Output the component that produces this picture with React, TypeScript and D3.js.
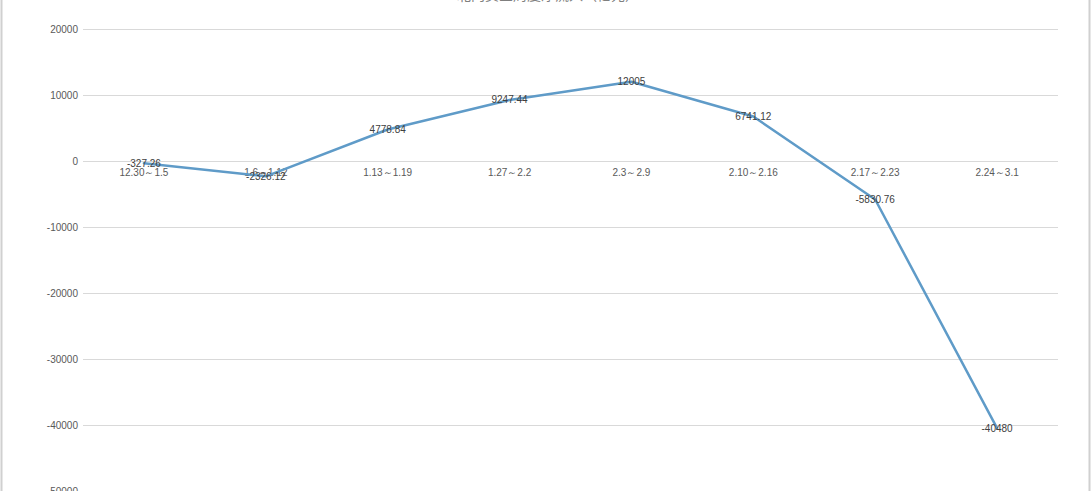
import React from "react";
import * as d3 from "d3";

const categories = ["12.30～1.5", "1.6～1.12", "1.13～1.19", "1.27～2.2", "2.3～2.9", "2.10～2.16", "2.17～2.23", "2.24～3.1"];
const values = [-327.26, -2326.12, 4778.84, 9247.44, 12005, 6741.12, -5830.76, -40480];
const valueLabels = ["-327.26", "-2326.12", "4778.84", "9247.44", "12005", "6741.12", "-5830.76", "-40480"];
const yTicks = [20000, 10000, 0, -10000, -20000, -30000, -40000, -50000];
const title = "北向资金周度净流入（亿元）";

const W = 1091;
const H = 491;

export default function App() {
  const x = d3.scaleBand<string>().domain(categories).range([83, 1058]);
  const y = d3.scaleLinear().domain([-50000, 20000]).range([491, 29]);
  const line = d3
    .line<number>()
    .x((_, i) => (x(categories[i]) as number) + x.bandwidth() / 2)
    .y((d) => y(d));
  const font = "'Liberation Sans', Arial, sans-serif";
  return (
    <div style={{ position: "absolute", left: 0, top: 0 }}>
      <svg width={W} height={H} style={{ display: "block", background: "#fff" }}>
        <line x1={1.5} x2={1.5} y1={0} y2={H} stroke="#d0d0d0" strokeWidth={2} />
        <line x1={1089.5} x2={1089.5} y1={0} y2={H} stroke="#d0d0d0" strokeWidth={2} />
        <text x={548} y={0} textAnchor="middle" fontSize={14} fill="#7f7f7f" fontFamily="'Noto Sans CJK SC', sans-serif">
          {title}
        </text>
        {yTicks.map((t) => (
          <g key={t}>
            <line x1={83} x2={1058} y1={Math.round(y(t)) + 0.5} y2={Math.round(y(t)) + 0.5} stroke="#d9d9d9" strokeWidth={1} />
            <text x={78} y={y(t)} dy="0.35em" textAnchor="end" fontSize={10} fill="#595959" fontFamily={font}>
              {t}
            </text>
          </g>
        ))}
        {categories.map((c) => (
          <text key={c} x={(x(c) as number) + x.bandwidth() / 2} y={172} dy="0.35em" textAnchor="middle" fontSize={10} fill="#595959" fontFamily={font}>
            {c}
          </text>
        ))}
        <path d={line(values) as string} fill="none" stroke="#5f9bc8" strokeWidth={2.5} strokeLinejoin="round" strokeLinecap="round" />
        {values.map((v, i) => (
          <text key={i} x={(x(categories[i]) as number) + x.bandwidth() / 2} y={y(v)} dy="0.35em" textAnchor="middle" fontSize={10} fill="#404040" fontFamily={font}>
            {valueLabels[i]}
          </text>
        ))}
      </svg>
    </div>
  );
}
